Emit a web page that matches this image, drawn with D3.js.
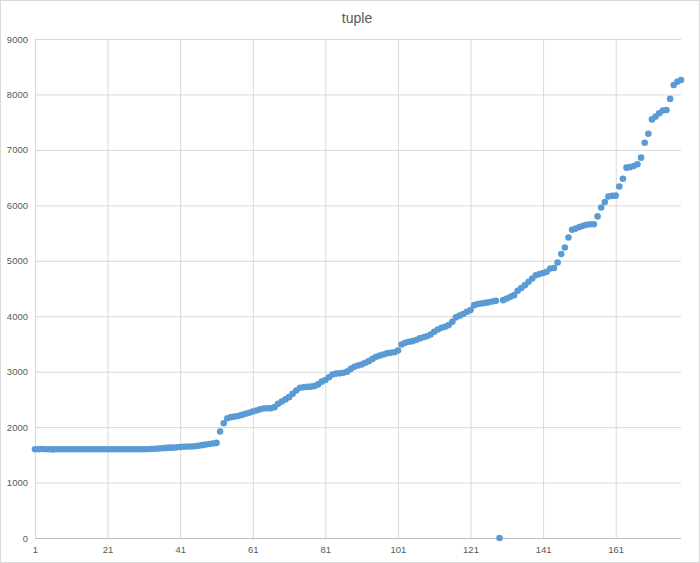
<!DOCTYPE html>
<html>
<head>
<meta charset="utf-8">
<script src="https://cdn.jsdelivr.net/npm/d3@7"></script>
<style>
  html, body { margin: 0; padding: 0; background: #fff; }
  svg { display: block; }
</style>
</head>
<body>
<svg id="chart" width="700" height="563"></svg>
<script>
const title = "tuple";
const yTicks = [0, 1000, 2000, 3000, 4000, 5000, 6000, 7000, 8000, 9000];
const xTickLabels = [1, 21, 41, 61, 81, 101, 121, 141, 161];
const values = [
  1600, 1600, 1605, 1600, 1600, 1598, 1600, 1602, 1600, 1600,
  1602, 1600, 1600, 1600, 1601, 1600, 1600, 1600, 1600, 1600,
  1600, 1600, 1600, 1600, 1600, 1600, 1600, 1600, 1600, 1600,
  1600, 1602, 1605, 1610, 1615, 1620, 1625, 1630, 1630, 1635,
  1640, 1645, 1650, 1650, 1655, 1665, 1675, 1685, 1695, 1705,
  1715, 1920, 2070, 2160, 2180, 2190, 2200, 2220, 2240, 2260,
  2280, 2300, 2320, 2335, 2340, 2340, 2360, 2420, 2460, 2500,
  2540, 2600, 2660, 2710, 2720, 2725, 2730, 2740, 2770, 2820,
  2850, 2900, 2950, 2965, 2970, 2980, 3000, 3050, 3090, 3110,
  3130, 3160, 3190, 3230, 3270, 3290, 3310, 3330, 3340, 3350,
  3380, 3490, 3520, 3540, 3550, 3570, 3600, 3620, 3640, 3670,
  3720, 3760, 3790, 3810, 3840, 3900, 3980, 4010, 4040, 4080,
  4110, 4200, 4220, 4230, 4240, 4250, 4265, 4280, 0, 4290,
  4320, 4350, 4380, 4460, 4510, 4560, 4620, 4680, 4740, 4760,
  4780, 4800, 4860, 4870, 4970, 5120, 5240, 5420, 5560, 5580,
  5610, 5630, 5650, 5660, 5660, 5800, 5960, 6060, 6160, 6170,
  6175, 6340, 6480, 6680, 6690, 6710, 6740, 6860, 7130, 7290,
  7550, 7600, 7660, 7710, 7720, 7920, 8170, 8230, 8260
];
const categories = values.map((_, i) => i + 1);

const svg = d3.select("#chart");
const W = 700, H = 563;
const plot = { left: 35, right: 681, top: 39, bottom: 538 };

// chart border
svg.append("rect").attr("x", 0.5).attr("y", 0.5).attr("width", W - 1).attr("height", H - 1)
  .attr("fill", "#fff").attr("stroke", "#d9d9d9");

const x = d3.scaleLinear().domain([1, categories.length]).range([plot.left, plot.right]);
const y = d3.scaleLinear().domain([0, 9000]).range([plot.bottom, plot.top]);

// horizontal gridlines + y labels
const yAxis = d3.axisLeft(y).tickValues(yTicks).tickSize(-(plot.right - plot.left)).tickPadding(7).tickFormat(d3.format("d"));
const gy = svg.append("g").attr("transform", `translate(${plot.left},0)`).call(yAxis);
gy.select(".domain").remove();
gy.selectAll(".tick line").attr("stroke", "#d9d9d9").attr("stroke-width", 1);
gy.selectAll(".tick text").attr("fill", "#595959").style("font-family", "'Liberation Sans', Arial, sans-serif").style("font-size", "9.5px");

// vertical gridlines + x labels
const xAxis = d3.axisBottom(x).tickValues(xTickLabels).tickSize(-(plot.bottom - plot.top)).tickPadding(8).tickFormat(d3.format("d"));
const gx = svg.append("g").attr("transform", `translate(0,${plot.bottom})`).call(xAxis);
gx.select(".domain").remove();
gx.selectAll(".tick line").attr("stroke", "#d9d9d9").attr("stroke-width", 1);
gx.selectAll(".tick text").attr("fill", "#595959").style("font-family", "'Liberation Sans', Arial, sans-serif").style("font-size", "9.5px");

// bottom axis line
svg.append("line").attr("x1", plot.left).attr("x2", plot.right)
  .attr("y1", y(0) + 0.5).attr("y2", y(0) + 0.5).attr("stroke", "#bfbfbf");

// points
svg.append("g").selectAll("circle").data(values).join("circle")
  .attr("cx", (d, i) => x(categories[i]))
  .attr("cy", d => y(d))
  .attr("r", 3.3)
  .attr("fill", "#5b9bd5");

// title
svg.append("text").attr("x", 357).attr("y", 23).attr("text-anchor", "middle")
  .attr("fill", "#595959").style("font-family", "'Liberation Sans', Arial, sans-serif").style("font-size", "14px")
  .text(title);
</script>
</body>
</html>
